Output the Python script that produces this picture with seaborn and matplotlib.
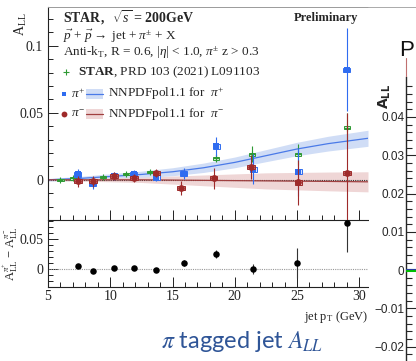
import numpy as np
import pandas as pd
import matplotlib
matplotlib.use("Agg")
import matplotlib.pyplot as plt
from matplotlib.patches import Rectangle
from matplotlib.lines import Line2D
import seaborn as sns

# ---------------- data ----------------
pip_x = [7.4, 8.6, 10.3, 11.9, 13.7, 15.9, 18.5, 21.5, 25.1, 29.0]
pip_y = [0.004, -0.003, 0.003, 0.004, 0.002, 0.0045, 0.025, 0.008, 0.006, 0.082]
pip_err = [0.004, 0.004, 0.003, 0.003, 0.003, 0.004, 0.007, 0.011, 0.018, 0.031]

pim_x = [7.4, 8.6, 10.3, 11.9, 13.7, 15.7, 18.3, 21.3, 25.1, 29.0]
pim_y = [-0.001, -0.001, 0.003, 0.001, 0.005, -0.006, 0.001, 0.0095, -0.002, 0.005]
pim_err = [0.004, 0.004, 0.003, 0.003, 0.003, 0.005, 0.008, 0.009, 0.017, 0.045]

prd_x = [6.0, 7.0, 9.4, 11.3, 13.2, 15.9, 18.5, 21.4, 25.1, 29.0]
prd_y = [0.0, 0.001, 0.002, 0.0045, 0.006, 0.0045, 0.016, 0.019, 0.019, 0.039]
prd_err = [0.001, 0.001, 0.001, 0.001, 0.0015, 0.002, 0.003, 0.006, 0.008, 0.011]

diff_x = [7.4, 8.6, 10.3, 11.9, 13.7, 15.9, 18.5, 21.5, 25.0, 29.0]
diff_y = [0.005, -0.003, 0.001, 0.002, -0.002, 0.010, 0.025, 0.0, 0.010, 0.077]
diff_err = [0.003, 0.003, 0.002, 0.002, 0.003, 0.005, 0.007, 0.009, 0.025, 0.049]

th_x = [5.0, 7.5, 10.0, 12.5, 15.0, 17.5, 20.0, 22.5, 25.0, 27.5, 30.7]
th_pip = [0.0, 0.001, 0.0025, 0.004, 0.006, 0.009, 0.013, 0.018, 0.023, 0.027, 0.031]
th_pip_unc = [0.001, 0.0015, 0.002, 0.0025, 0.003, 0.0035, 0.004, 0.0045, 0.005, 0.0055, 0.006]
th_pim = [0.0, 0.0, 0.0, 0.0, -0.0002, -0.0004, -0.0006, -0.0008, -0.001, -0.0012, -0.0015]
th_pim_unc = [0.0005, 0.001, 0.0015, 0.002, 0.003, 0.004, 0.005, 0.006, 0.0065, 0.007, 0.0075]

main_yticks = [0, 0.05, 0.1]
main_yticklabels = ["0", "0.05", "0.1"]
low_yticks = [0, 0.05]
low_yticklabels = ["0", "0.05"]
xticks = [5, 10, 15, 20, 25, 30]
right_yticks = [-0.02, -0.01, 0, 0.01, 0.02, 0.03, 0.04]
right_yticklabels = ["\u22120.02", "\u22120.01", "0", "0.01", "0.02", "0.03", "0.04"]

# ---------------- style ----------------
sns.set_style("ticks")
plt.rcParams["font.family"] = ["Liberation Serif", "DejaVu Serif"]
plt.rcParams["mathtext.fontset"] = "custom"
plt.rcParams["mathtext.rm"] = "Liberation Serif"
plt.rcParams["mathtext.it"] = "Liberation Serif:italic"
plt.rcParams["mathtext.bf"] = "Liberation Serif:bold"

BLUE = "#2f6cf0"
RED = "#9e2a2a"
GREEN = "#2e9a34"
BLUE_BAND = "#d0ddf6"
RED_BAND = "#efd6d6"

W, H = 416, 361
fig = plt.figure(figsize=(W / 100, H / 100), dpi=100)
fig.patch.set_facecolor("white")

def fx(px):
    return px / W

def fy(py):
    return 1 - py / H

ax1 = fig.add_axes([fx(48), fy(220), fx(368) - fx(48), fy(7) - fy(220)])
ax2 = fig.add_axes([fx(48), fy(287), fx(368) - fx(48), fy(220) - fy(287)])

XMIN, XMAX = 5, 30.7
for ax in (ax1, ax2):
    ax.set_xlim(XMIN, XMAX)
    ax.set_facecolor("none")
    ax.spines["right"].set_visible(False)
    for s in ("left", "bottom", "top"):
        ax.spines[s].set_linewidth(0.8)
        ax.spines[s].set_color("#222222")
    ax.set_xticks(xticks)
    ax.set_xticks(np.arange(5, 31, 1), minor=True)
    ax.tick_params(which="both", direction="in", top=False, right=False,
                   colors="#222222", labelsize=10, width=0.7)
    ax.tick_params(which="major", length=7)
    ax.tick_params(which="minor", length=3.5)

ax1.spines["top"].set_visible(True)
ax1.spines["top"].set_color("#9a9a9a")
ax1.spines["top"].set_linewidth(0.7)
ax2.spines["top"].set_visible(False)

# ---- main panel ----
ax1.set_ylim(-0.030, 0.129)
ax1.set_yticks(main_yticks)
ax1.set_yticklabels(main_yticklabels)
ax1.set_yticks(np.arange(-0.03, 0.13, 0.01), minor=True)
ax1.set_xticklabels([])

ax1.axhline(0, color="#333333", lw=0.8, ls=(0, (1, 1)), zorder=2)

# theory bands + lines
ax1.fill_between(th_x, np.array(th_pip) - np.array(th_pip_unc), np.array(th_pip) + np.array(th_pip_unc),
                 color=BLUE_BAND, lw=0, zorder=1)
ax1.fill_between(th_x, np.array(th_pim) - np.array(th_pim_unc), np.array(th_pim) + np.array(th_pim_unc),
                 color=RED_BAND, lw=0, zorder=1)
th_df = pd.DataFrame({"x": th_x * 2, "y": th_pip + th_pim,
                      "s": ["pip"] * len(th_x) + ["pim"] * len(th_x)})
sns.lineplot(data=th_df, x="x", y="y", hue="s", palette={"pip": "#4a7ae8", "pim": "#a04040"},
             lw=0.9, ax=ax1, legend=False, zorder=2)

def draw_series(ax, x, y, err, color, marker, ms, boxw, boxh, facebox, zo):
    for xi, yi in zip(x, y):
        ax.add_patch(Rectangle((xi - boxw / 2, yi - boxh / 2), boxw, boxh,
                               facecolor=facebox, edgecolor=color, lw=0.7, zorder=zo))
    ax.errorbar(x, y, yerr=err, fmt="none", ecolor=color, elinewidth=0.8, zorder=zo + 0.1)
    df = pd.DataFrame({"x": x, "y": y})
    sns.scatterplot(data=df, x="x", y="y", color=color, marker=marker, s=ms,
                    edgecolor=color if marker != "+" else None, linewidth=0.8 if marker == "+" else 0,
                    ax=ax, zorder=zo + 0.2, legend=False)

draw_series(ax1, prd_x, prd_y, prd_err, GREEN, "+", 14, 0.5, 0.0018, "#dbefdb", 3)
draw_series(ax1, pip_x, pip_y, pip_err, BLUE, "s", 16, 0.55, 0.0036, "#dbe5fb", 4)
draw_series(ax1, pim_x, pim_y, pim_err, RED, "o", 24, 0.6, 0.003, "#f0d6d6", 5)
ax1.set_xlabel("")
ax1.set_ylabel("")

# main y label
ax1.text(-0.085, 0.975, r"A$_{\mathregular{LL}}$", transform=ax1.transAxes, rotation=90,
         ha="center", va="top", fontsize=10, color="#222222")

# legend / annotations
T = ax1.transAxes
def ax_x(px):
    return (px - 48) / 320
def ax_y(py):
    return (220 - py) / 213

ax1.text(ax_x(63), ax_y(18), r"$\mathbf{STAR,}$  $\sqrt{s}$ = 200GeV", transform=T, fontsize=10,
         fontweight="bold", va="center", ha="left")
ax1.text(ax_x(63), ax_y(36), r"$\vec{p}$ + $\vec{p}$$\rightarrow$ jet + $\pi^{\pm}$ + X", transform=T,
         fontsize=9.5, va="center", ha="left")
ax1.text(ax_x(63), ax_y(53), r"Anti-k$_{\mathregular{T}}$, R = 0.6, |$\eta$| < 1.0, $\pi^{\pm}$ z > 0.3",
         transform=T, fontsize=9.5, va="center", ha="left")
ax1.plot([ax_x(66)], [ax_y(72)], marker="+", color=GREEN, ms=4, mew=0.8, transform=T)
ax1.text(ax_x(78), ax_y(72), r"$\mathbf{STAR}$, PRD 103 (2021) L091103", transform=T,
         fontsize=9.5, va="center", ha="left")
# pi+ row
ax1.plot([ax_x(64)], [ax_y(94)], marker="s", color=BLUE, ms=3.5, mew=0, transform=T)
ax1.text(ax_x(71), ax_y(94), r"$\pi^{+}$", transform=T, fontsize=9.5, va="center", ha="left")
ax1.add_patch(Rectangle((ax_x(86), ax_y(99)), ax_x(103) - ax_x(86), ax_y(89) - ax_y(99),
                        transform=T, facecolor=BLUE_BAND, lw=0))
ax1.add_line(Line2D([ax_x(86), ax_x(103)], [ax_y(94), ax_y(94)], transform=T, color="#4a7ae8", lw=0.9))
ax1.text(ax_x(108), ax_y(94), r"NNPDFpol1.1 for  $\pi^{+}$", transform=T, fontsize=9.5, va="center", ha="left")
# pi- row
ax1.plot([ax_x(64)], [ax_y(114)], marker="o", color=RED, ms=4.2, mew=0, transform=T)
ax1.text(ax_x(71), ax_y(114), r"$\pi^{-}$", transform=T, fontsize=9.5, va="center", ha="left")
ax1.add_patch(Rectangle((ax_x(86), ax_y(119)), ax_x(103) - ax_x(86), ax_y(109) - ax_y(119),
                        transform=T, facecolor=RED_BAND, lw=0))
ax1.add_line(Line2D([ax_x(86), ax_x(103)], [ax_y(114), ax_y(114)], transform=T, color="#a04040", lw=0.9))
ax1.text(ax_x(108), ax_y(114), r"NNPDFpol1.1 for  $\pi^{-}$", transform=T, fontsize=9.5, va="center", ha="left")

ax1.text(ax_x(326), ax_y(18), "Preliminary", transform=T, fontsize=9, fontweight="bold",
         va="center", ha="center")

# ---- lower panel ----
ax2.set_ylim(-0.030, 0.082)
ax2.set_yticks(low_yticks)
ax2.set_yticklabels(low_yticklabels)
ax2.set_yticks(np.arange(-0.03, 0.081, 0.01), minor=True)
ax2.axhline(0, color="#999999", lw=0.8, ls=(0, (1, 1)), zorder=1)
ax2.errorbar(diff_x, diff_y, yerr=diff_err, fmt="none", ecolor="#333333", elinewidth=0.8, zorder=3)
sns.scatterplot(data=pd.DataFrame({"x": diff_x, "y": diff_y}), x="x", y="y", color="black",
                s=22, linewidth=0, ax=ax2, zorder=4, legend=False)
ax2.set_xlabel("")
ax2.set_ylabel("")
ax2.tick_params(axis="x", pad=2)
ax2.text(-0.115, 0.5, r"A$^{\pi^{+}}_{\mathregular{LL}}$ $-$ A$^{\pi^{-}}_{\mathregular{LL}}$",
         transform=ax2.transAxes, rotation=90, ha="center", va="center", fontsize=9, color="#222222")
ax2.text(1.0, -0.33, r"jet p$_{\mathregular{T}}$ (GeV)", transform=ax2.transAxes, ha="right",
         va="top", fontsize=9, color="#222222")

# white area covering the right side (slide overlap)
fig.patches.append(Rectangle((fx(369), 0), 1 - fx(369), fy(10), transform=fig.transFigure,
                             facecolor="white", edgecolor="none", zorder=1))
fig.add_artist(Line2D([fx(368), 1], [fy(7), fy(7)], color="#aaaaaa", lw=0.7, zorder=1))

# ---- right partial chart ----
ax3 = fig.add_axes([fx(406), 0, 1 - fx(406), fy(77)], zorder=2)
ax3.set_ylim(-0.0237, 0.0504)
ax3.set_xlim(0, 1)
ax3.set_facecolor("white")
for s in ("top", "right", "bottom"):
    ax3.spines[s].set_visible(False)
ax3.spines["left"].set_linewidth(1.0)
ax3.set_xticks([])
ax3.set_yticks(right_yticks)
ax3.set_yticklabels(right_yticklabels, family=["Liberation Sans", "DejaVu Sans"])
ax3.set_yticks(np.arange(-0.022, 0.05, 0.002), minor=True)
ax3.tick_params(which="both", direction="in", labelsize=8.5, width=0.8, pad=1)
ax3.tick_params(which="major", length=8)
ax3.tick_params(which="minor", length=4)
ax3.axhline(0, color="#00c000", lw=2.2, zorder=3)
ax3.axhline(0.0004, color="#2a3aa0", lw=0.8, zorder=3)
fig.text(fx(385), fy(96), r"$\mathbf{A_{LL}}$", rotation=90, ha="center", va="center",
         fontsize=10, math_fontfamily="dejavusans", zorder=3)
fig.text(fx(399), fy(50), "P", ha="left", va="center", fontsize=16,
         family=["Liberation Sans", "DejaVu Sans"], color="#111111", zorder=3)
fig.add_artist(Line2D([fx(406), fx(406)], [fy(58), fy(76)], color="#c07070", lw=0.8, zorder=3))

# ---- caption ----
fig.text(fx(242), fy(342), r"$\pi$ tagged jet $A_{LL}$", ha="center", va="center", fontsize=17,
         color="#2f5597", family=["Lato", "DejaVu Sans"], math_fontfamily="stix")

fig.savefig("out.png", dpi=100)
